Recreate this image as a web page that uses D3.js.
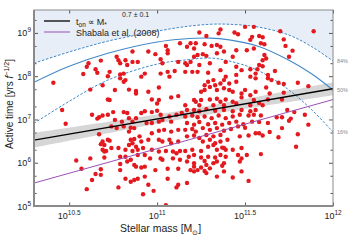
<!DOCTYPE html>
<html>
<head>
<meta charset="utf-8">
<script src="https://cdn.jsdelivr.net/npm/d3@7/dist/d3.min.js"></script>
<style>
  body { margin: 0; background: #fff; }
  text { font-family: "Liberation Sans", Arial, sans-serif; fill: #222; }
</style>
</head>
<body>
<svg id="chart" width="349" height="244"></svg>
<script>
// every value below is log10(stellar mass / Msun) and log10(active time / yr)
const galaxies = [
  [10.68,8.36],[10.61,8.30],[10.60,8.22],[10.65,8.16],[10.66,8.08],[10.58,8.05],[10.72,8.00],[10.41,7.85],[10.69,7.79],[10.62,7.69],[10.72,7.46],
  [11.13,8.76],[11.05,8.70],[11.06,8.60],[11.06,8.53],[10.99,8.51],[10.95,8.57],[10.86,8.57],[10.77,8.45],[10.78,8.37],[10.82,8.37],[10.79,8.30],[10.83,8.26],[10.86,8.33],[10.89,8.33],[11.02,8.39],[11.03,8.30],[11.12,8.33],[11.06,8.10],[11.10,8.12],[11.02,8.06],[11.07,7.99],[10.93,8.06],[10.91,7.99],[10.73,8.10],[10.79,8.04],[10.81,8.06],[10.79,7.95],[10.81,7.87],[10.82,7.91],[10.76,7.68],[10.84,7.69],[10.88,7.66],[10.88,7.60],[10.95,7.64],[11.01,7.74],[10.73,7.45],[10.97,7.46],[11.01,7.45],[11.00,7.37],[11.08,7.51],[11.12,7.54],
  [11.36,9.08],[11.24,9.01],[11.28,8.93],[11.35,8.99],[11.44,9.01],[11.46,8.97],[11.50,9.14],[11.55,9.14],[11.53,8.84],[11.54,8.91],[11.19,8.76],[11.17,8.68],[11.21,8.64],[11.22,8.76],[11.27,8.74],[11.31,8.70],[11.34,8.72],[11.36,8.68],[11.38,8.57],[11.34,8.53],[11.26,8.51],[11.28,8.47],[11.23,8.49],[11.21,8.45],[11.45,8.60],[11.51,8.60],[11.55,8.64],[11.43,8.45],[11.39,8.33],[11.19,8.33],[11.16,8.30],[11.17,8.26],[11.24,8.26],[11.30,8.30],[11.45,8.22],[11.48,8.14],[11.53,8.16],[11.56,8.06],[11.57,8.16],[11.20,8.10],[11.23,8.10],[11.29,8.08],[11.36,8.14],[11.45,8.03],[11.53,7.99],[11.56,7.95],[11.16,8.10],[11.39,7.99],[11.36,7.83],[11.38,7.91],[11.32,7.91],[11.29,7.87],[11.27,7.79],[11.30,7.75],[11.33,7.79],[11.41,7.83],[11.45,7.87],[11.27,7.68],[11.25,7.64],[11.34,7.68],[11.38,7.72],[11.41,7.68],[11.43,7.64],[11.50,7.68],[11.48,7.60],[11.56,7.64],[11.21,7.45],[11.22,7.41],[11.25,7.45],[11.30,7.46],[11.34,7.48],[11.36,7.41],[11.39,7.46],[11.43,7.41],[11.48,7.51],[11.53,7.56],[11.16,7.33],[11.24,7.33],[11.32,7.33],[11.38,7.33],[11.45,7.37],[11.53,7.33],[11.55,7.45],
  [11.70,9.04],[11.89,9.04],[11.58,8.93],[11.60,8.90],[11.59,8.76],[11.61,8.74],[11.72,8.85],[11.73,8.70],[11.77,8.59],[11.75,8.45],[11.61,8.49],[11.60,8.37],[11.62,8.41],[11.58,8.26],[11.60,8.23],[11.67,8.12],[11.63,8.03],[11.63,7.95],[11.65,7.91],[11.69,7.85],[11.72,7.82],[11.80,7.85],[11.86,7.77],[11.72,7.62],[11.62,7.74],[11.64,7.60],[11.63,7.46],[11.71,7.46],[11.58,7.38],[11.60,7.33],
  [10.46,7.22],[10.48,6.90],[10.63,7.11],[10.66,7.02],[10.67,7.05],[10.69,7.09],[10.72,7.11],[10.67,6.66],[10.69,6.49],[10.68,6.43],[10.70,6.41],[10.72,6.53],[10.69,6.30],[10.70,6.26],[10.71,6.27],[10.70,6.12],[10.54,6.05],[10.62,6.10],[10.57,5.86],[10.68,5.85],[10.65,5.74],[10.68,5.72],[10.63,5.60],[10.60,5.39],
  [10.75,7.17],[10.81,7.17],[10.83,7.15],[10.91,7.15],[10.93,7.19],[10.97,7.17],[11.00,7.20],[11.02,7.11],[11.07,7.07],[11.11,7.11],[11.14,7.15],[10.76,6.99],[10.80,6.95],[10.84,7.03],[10.86,6.95],[10.88,7.03],[10.94,6.92],[10.97,6.92],[11.01,6.95],[11.03,6.99],[11.08,6.95],[10.74,6.84],[10.77,6.80],[10.81,6.84],[10.85,6.81],[10.87,6.80],[10.84,6.72],[10.97,6.68],[11.01,6.74],[11.04,6.76],[11.08,6.72],[11.12,6.76],[10.73,6.51],[10.85,6.53],[10.87,6.55],[10.90,6.61],[10.91,6.49],[10.95,6.53],[11.01,6.53],[11.03,6.49],[11.07,6.53],[11.08,6.45],[11.12,6.49],[10.84,6.41],[10.86,6.45],[10.88,6.37],[10.74,6.34],[10.78,6.34],[10.82,6.30],[10.86,6.27],[10.89,6.30],[10.92,6.34],[10.97,6.30],[11.01,6.26],[11.05,6.27],[11.09,6.26],[11.11,6.22],[11.13,6.27],[10.79,6.14],[10.82,6.14],[10.85,6.07],[10.89,6.18],[10.93,6.18],[10.96,6.10],[11.02,6.10],[11.03,6.07],[11.09,6.10],[11.13,6.07],[10.79,5.97],[10.83,6.03],[10.87,5.95],[10.88,5.91],[10.91,5.89],[10.93,5.91],[10.99,5.83],[11.06,5.86],[11.12,5.86],[10.79,5.83],[10.93,5.68],[10.82,5.63],[10.85,5.56],[10.87,5.60],[10.89,5.63],[11.06,5.63],[10.78,5.43],[10.95,5.49],[11.12,5.49],[11.11,5.43],[10.98,5.35],[10.92,5.27],[11.05,5.02],
  [11.17,7.22],[11.21,7.22],[11.24,7.19],[11.28,7.24],[11.33,7.20],[11.38,7.22],[11.43,7.19],[11.48,7.22],[11.53,7.19],[11.56,7.22],[11.16,7.07],[11.20,7.09],[11.23,7.05],[11.27,7.07],[11.31,7.03],[11.35,7.09],[11.39,7.03],[11.43,7.07],[11.47,7.11],[11.52,7.09],[11.55,7.11],[11.17,6.92],[11.21,6.88],[11.24,6.94],[11.29,6.89],[11.33,6.92],[11.37,6.88],[11.41,6.92],[11.45,6.95],[11.49,6.89],[11.54,6.95],[11.16,6.76],[11.20,6.78],[11.22,6.72],[11.26,6.80],[11.30,6.76],[11.34,6.80],[11.38,6.74],[11.42,6.78],[11.46,6.84],[11.50,6.81],[11.17,6.61],[11.21,6.63],[11.24,6.57],[11.28,6.64],[11.32,6.61],[11.36,6.64],[11.40,6.53],[11.47,6.61],[11.52,6.63],[11.56,6.68],[11.26,6.49],[11.30,6.53],[11.33,6.45],[11.36,6.49],[11.29,6.37],[11.32,6.41],[11.37,6.35],[11.39,6.30],[11.43,6.30],[11.48,6.34],[11.16,6.27],[11.20,6.30],[11.25,6.27],[11.34,6.30],[11.38,6.34],[11.18,6.14],[11.21,6.18],[11.25,6.12],[11.29,6.14],[11.33,6.12],[11.36,6.18],[11.39,6.14],[11.46,6.18],[11.51,6.18],[11.17,6.03],[11.21,5.99],[11.27,6.04],[11.32,5.99],[11.34,6.03],[11.38,5.99],[11.47,6.03],[11.48,6.10],[11.21,5.91],[11.25,5.89],[11.28,5.95],[11.30,5.87],[11.37,5.93],[11.19,5.83],[11.21,5.80],[11.23,5.83],[11.27,5.81],[11.28,5.76],[11.38,5.80],[11.48,5.80],[11.34,5.68],[11.43,5.66],[11.52,5.58],[11.17,5.53],
  [11.59,7.09],[11.58,6.94],[11.63,6.92],[11.68,7.05],[11.71,7.05],[11.74,7.22],[11.78,7.17],[11.84,7.11],[11.75,6.97],[11.76,7.02],[11.71,6.80],[11.58,6.68],[11.60,6.63],[11.64,6.71],[11.69,6.59],[11.80,6.66],[11.86,6.88],[11.79,6.37],[11.59,6.20]
];

// power-law fit t_on ∝ M^0.7 and its uncertainty band
const fitMass = [10.3, 12.0];
const fitTime = [6.52, 7.71];
const bandMass = [10.3, 10.75, 11.2, 11.6, 12.0];
const bandHalf = [0.17, 0.13, 0.10, 0.12, 0.15];

// Shabala et al. (2008)
const shabalaMass = [10.3, 12.0];
const shabalaTime = [5.53, 7.46];

// model percentiles
const curveMass = [10.3, 10.5, 10.72, 11.0, 11.15, 11.3, 11.41, 11.57, 11.75, 11.88, 12.0];
const p84 = [8.30, 8.56, 8.81, 9.04, 9.14, 9.20, 9.20, 9.14, 8.95, 8.68, 8.35];
const p50 = [7.86, 8.23, 8.53, 8.79, 8.86, 8.88, 8.84, 8.70, 8.37, 8.05, 7.68];
const p16 = [6.91, 7.42, 7.91, 8.28, 8.37, 8.42, 8.35, 8.14, 7.68, 7.22, 6.71];
const pctLabels = ["84%", "50%", "16%"];

const xTicks = [10.5, 11, 11.5, 12];
const yTicks = [5, 6, 7, 8, 9];

const margin = {top: 10, right: 16, bottom: 38, left: 34};
const width = 349 - margin.left - margin.right,
      height = 244 - margin.top - margin.bottom;

const svg = d3.select("#chart");
const g = svg.append("g").attr("transform", "translate(" + margin.left + "," + margin.top + ")");

const x = d3.scaleLog().domain([Math.pow(10, 10.3), 1e12]).range([0, width]);
const y = d3.scaleLog().domain([1e5, Math.pow(10, 9.53)]).range([height, 0]);
const X = v => x(Math.pow(10, v));
const Y = v => y(Math.pow(10, v));

g.append("clipPath").attr("id", "clip")
  .append("rect").attr("width", width).attr("height", height);
const plot = g.append("g").attr("clip-path", "url(#clip)");

// shaded region above the 84% curve
const pts84 = curveMass.map((m, i) => [m, p84[i]]);
plot.append("path")
    .datum(pts84)
    .attr("fill", "#e8eef7")
    .attr("d", d3.area().x(d => X(d[0])).y0(0).y1(d => Y(d[1])).curve(d3.curveCatmullRom));

// fit uncertainty band
const bandPts = bandMass.map((m, i) => {
  const t = fitTime[0] + (m - fitMass[0]) * (fitTime[1] - fitTime[0]) / (fitMass[1] - fitMass[0]);
  return [m, t - bandHalf[i], t + bandHalf[i]];
});
plot.append("path")
    .datum(bandPts)
    .attr("fill", "#d6d6d6")
    .attr("d", d3.area().x(d => X(d[0])).y0(d => Y(d[1])).y1(d => Y(d[2])).curve(d3.curveCatmullRom));

// percentile curves
const line = d3.line().x(d => X(d[0])).y(d => Y(d[1])).curve(d3.curveCatmullRom);
[[p84, "2.6,1.6"], [p50, null], [p16, "2.6,1.6"]].forEach(([vals, dash]) => {
  plot.append("path")
      .datum(curveMass.map((m, i) => [m, vals[i]]))
      .attr("fill", "none")
      .attr("stroke", "#4289c9")
      .attr("stroke-width", dash ? 1 : 1.1)
      .attr("stroke-dasharray", dash)
      .attr("d", line);
});

// galaxies
plot.selectAll("circle")
    .data(galaxies)
  .enter().append("circle")
    .attr("cx", d => X(d[0]))
    .attr("cy", d => Y(d[1]))
    .attr("r", 2.2)
    .attr("fill", "#e3191f");

// fit line and Shabala relation
plot.append("path")
    .datum(fitMass.map((m, i) => [m, fitTime[i]]))
    .attr("fill", "none").attr("stroke", "#000").attr("stroke-width", 1.3)
    .attr("d", d3.line().x(d => X(d[0])).y(d => Y(d[1])));
plot.append("path")
    .datum(shabalaMass.map((m, i) => [m, shabalaTime[i]]))
    .attr("fill", "none").attr("stroke", "#9b4fb5").attr("stroke-width", 1)
    .attr("d", d3.line().x(d => X(d[0])).y(d => Y(d[1])));

// axes: ticks point inward on all four sides
const majorY = yTicks.map(v => Math.pow(10, v));
const minorY = [];
yTicks.forEach(v => [2, 5].forEach(k => { const t = k * Math.pow(10, v); if (t < Math.pow(10, 9.53)) minorY.push(t); }));
const majorX = xTicks.map(v => Math.pow(10, v));

function noDomain(sel) { sel.select(".domain").remove(); sel.selectAll("line").attr("stroke", "#555"); }

g.append("g").call(d3.axisRight(y).tickValues(majorY).tickSize(4).tickFormat("")).call(noDomain);
g.append("g").call(d3.axisRight(y).tickValues(minorY).tickSize(2.5).tickFormat("")).call(noDomain);
g.append("g").attr("transform", "translate(" + width + ",0)")
  .call(d3.axisLeft(y).tickValues(majorY).tickSize(4).tickFormat("")).call(noDomain);
g.append("g").attr("transform", "translate(" + width + ",0)")
  .call(d3.axisLeft(y).tickValues(minorY).tickSize(2.5).tickFormat("")).call(noDomain);
g.append("g").attr("transform", "translate(0," + height + ")")
  .call(d3.axisTop(x).tickValues(majorX).tickSize(3.5).tickFormat("")).call(noDomain);
g.append("g")
  .call(d3.axisBottom(x).tickValues(majorX).tickSize(3.5).tickFormat("")).call(noDomain);

// frame
g.append("rect").attr("width", width).attr("height", height)
  .attr("fill", "none").attr("stroke", "#8a8a8a").attr("stroke-width", 1);
g.append("path").attr("d", "M0,0V" + height + "H" + width)
  .attr("fill", "none").attr("stroke", "#8a8a8a").attr("stroke-width", 2);

// tick labels
yTicks.forEach(v => {
  const t = g.append("text").attr("x", -3).attr("y", Y(v) + 3.5)
    .attr("text-anchor", "end").attr("font-size", 9);
  t.append("tspan").text("10");
  t.append("tspan").attr("dy", -4).attr("font-size", 6.5).text(v);
});
xTicks.forEach(v => {
  const t = g.append("text").attr("x", X(v)).attr("y", height + 13)
    .attr("text-anchor", "middle").attr("font-size", 9);
  t.append("tspan").text("10");
  t.append("tspan").attr("dy", -4).attr("font-size", 6.5).text(v);
});

// percentile labels on the right
[p84, p50, p16].forEach((vals, i) => {
  g.append("text")
    .attr("x", width + 4).attr("y", Y(vals[vals.length - 1]) + 2)
    .attr("font-size", 5.5).style("fill", "#888")
    .text(pctLabels[i]);
});

// axis titles
const xt = g.append("text").attr("x", 86).attr("y", height + 26).attr("font-size", 10.5);
xt.append("tspan").text("Stellar mass [M");
xt.append("tspan").attr("dy", 2.5).attr("font-size", 7).text("\u2299");
xt.append("tspan").attr("dy", -2.5).text("]");

const yt = svg.append("text")
  .attr("transform", "translate(13," + (margin.top + 94) + ") rotate(-90)")
  .attr("text-anchor", "middle").attr("font-size", 10);
yt.append("tspan").text("Active time [yrs ");
yt.append("tspan").attr("font-style", "italic").text("f");
yt.append("tspan").attr("dy", -4).attr("font-size", 7).text("\u22121/2");
yt.append("tspan").attr("dy", 4).text("]");

// legend
const leg = g.append("g").attr("transform", "translate(10,11)");
leg.append("line").attr("x1", 0).attr("x2", 26).attr("y1", 0).attr("y2", 0)
  .attr("stroke", "#000").attr("stroke-width", 1.3);
const l1 = leg.append("text").attr("x", 32).attr("y", 3.5).attr("font-size", 9);
l1.append("tspan").text("t");
l1.append("tspan").attr("dy", 2.5).attr("font-size", 6.5).text("on");
l1.append("tspan").attr("dy", -2.5).text(" \u221d M");
l1.append("tspan").attr("dy", 2.5).attr("font-size", 6.5).text("*");
leg.append("text").attr("x", 78).attr("y", -4).attr("font-size", 7).text("0.7 \u00b1 0.1");
leg.append("line").attr("x1", 0).attr("x2", 26).attr("y1", 11).attr("y2", 11)
  .attr("stroke", "#9b4fb5").attr("stroke-width", 1);
leg.append("text").attr("x", 32).attr("y", 14.5).attr("font-size", 9).text("Shabala et al. (2008)");
</script>
</body>
</html>
